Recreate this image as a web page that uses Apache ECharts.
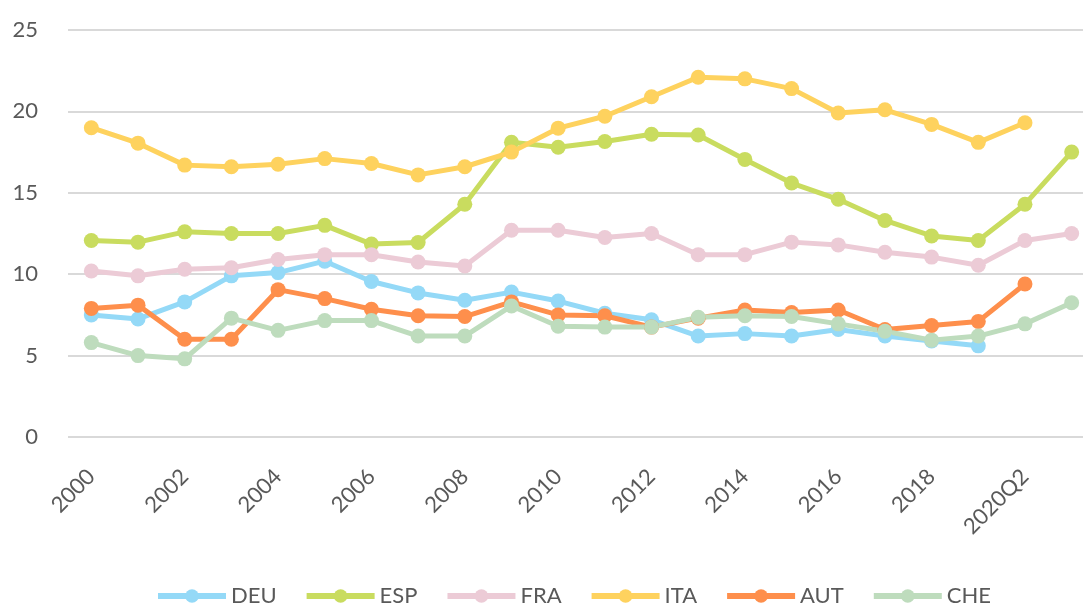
<!DOCTYPE html>
<html>
<head>
<meta charset="utf-8">
<script src="https://cdn.jsdelivr.net/npm/echarts@6/dist/echarts.min.js"></script>
<style>
  html, body { margin: 0; padding: 0; background: #fff; }
  #chartingArea { width: 1083px; height: 607px; }
</style>
</head>
<body>
<div id="chartingArea"></div>
<script>
const periods = ['2000', '2001', '2002', '2003', '2004', '2005', '2006', '2007', '2008', '2009',
  '2010', '2011', '2012', '2013', '2014', '2015', '2016', '2017', '2018', '2019', '2020Q2', '2021Q2'];

const deu = [7.5, 7.25, 8.3, 9.9, 10.1, 10.8, 9.55, 8.85, 8.4, 8.9, 8.35, 7.6, 7.2, 6.2, 6.35, 6.2, 6.6, 6.2, 5.9, 5.6, null, null];
const esp = [12.07, 11.97, 12.6, 12.5, 12.5, 13.0, 11.85, 11.95, 14.3, 18.1, 17.8, 18.15, 18.6, 18.55, 17.05, 15.6, 14.6, 13.3, 12.35, 12.07, 14.3, 17.5];
const fra = [10.2, 9.9, 10.3, 10.4, 10.9, 11.2, 11.2, 10.75, 10.5, 12.7, 12.7, 12.25, 12.5, 11.2, 11.2, 11.97, 11.8, 11.35, 11.05, 10.55, 12.07, 12.5];
const ita = [19.0, 18.05, 16.7, 16.6, 16.75, 17.1, 16.8, 16.1, 16.6, 17.5, 18.97, 19.7, 20.9, 22.1, 22.0, 21.4, 19.9, 20.1, 19.2, 18.1, 19.3, null];
const aut = [7.9, 8.1, 6.0, 6.0, 9.05, 8.5, 7.85, 7.45, 7.4, 8.3, 7.5, 7.45, 6.75, 7.3, 7.8, 7.65, 7.8, 6.6, 6.85, 7.1, 9.4, null];
const che = [5.8, 5.0, 4.8, 7.3, 6.55, 7.15, 7.15, 6.2, 6.2, 8.05, 6.8, 6.75, 6.75, 7.35, 7.45, 7.4, 6.95, 6.5, 5.95, 6.2, 6.95, 8.25];

const names = ['DEU', 'ESP', 'FRA', 'ITA', 'AUT', 'CHE'];
const values = [deu, esp, fra, ita, aut, che];
const colors = ['#94d9f7', '#c9dc5f', '#eccbd6', '#fed25e', '#fe8f4c', '#bedcbd'];

const font = 'Lato, "Open Sans", sans-serif';
const textColor = '#595959';

const myChart = echarts.init(document.getElementById('chartingArea'));
myChart.setOption({
  animation: false,
  color: colors,
  // plot runs past the right edge, like the cropped original
  grid: { left: 68, top: 30, width: 1027, bottom: 170, outerBoundsMode: 'none', containLabel: false },
  legend: {
    left: 150,
    top: 580,
    itemWidth: 68,
    itemHeight: 17,
    itemGap: 27,
    lineStyle: { width: 6 },
    textStyle: { color: textColor, fontSize: 22, fontFamily: font },
    data: names
  },
  xAxis: {
    type: 'category',
    data: periods,
    boundaryGap: true,
    axisLine: { show: false },
    axisTick: { show: false },
    axisLabel: {
      interval: 1,
      rotate: 45,
      margin: 36,
      color: textColor,
      fontSize: 22,
      fontFamily: font
    }
  },
  yAxis: {
    type: 'value',
    min: 0,
    max: 25,
    interval: 5,
    axisLine: { show: false },
    axisTick: { show: false },
    axisLabel: { margin: 30, color: textColor, fontSize: 22, fontFamily: font },
    splitLine: { lineStyle: { color: '#d9d9d9', width: 2 } }
  },
  series: names.map((n, i) => ({
    name: n,
    type: 'line',
    data: values[i],
    symbol: 'circle',
    symbolSize: 15,
    lineStyle: { width: 5 },
    itemStyle: { color: colors[i] }
  }))
});
</script>
</body>
</html>
